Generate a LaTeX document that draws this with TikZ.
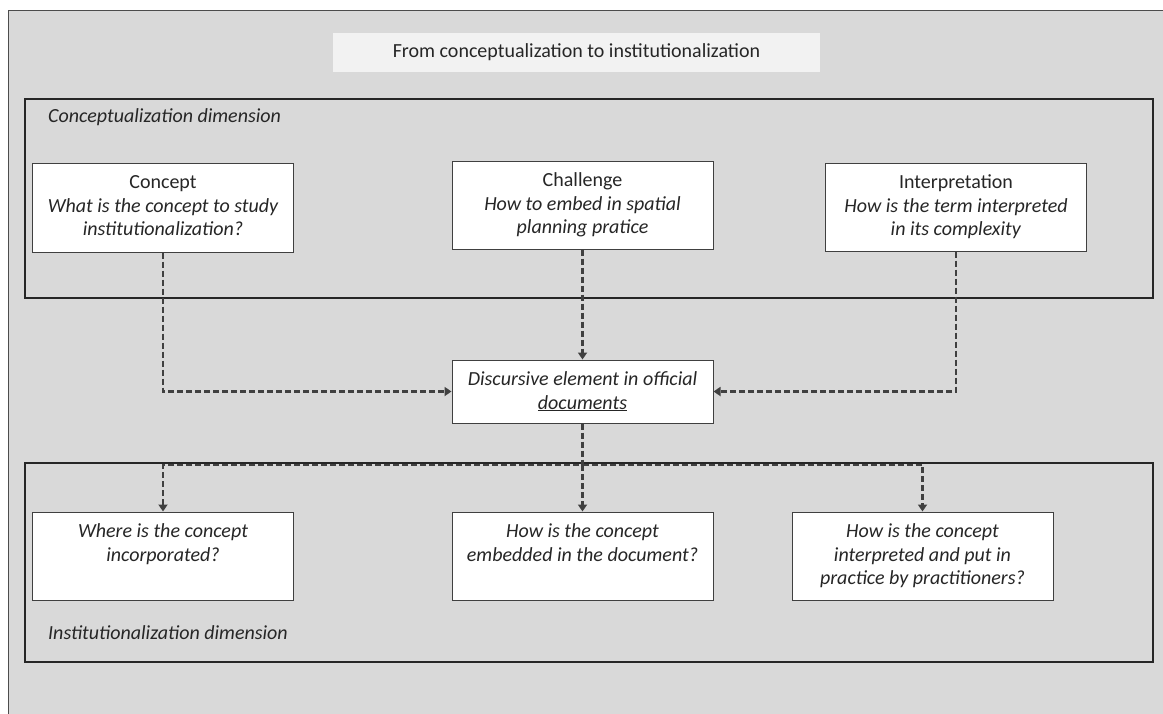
\documentclass[tikz,border=0pt]{standalone}
\usepackage{fontspec}
\setmainfont{Carlito}
\usetikzlibrary{arrows.meta}
\definecolor{pagegray}{HTML}{D9D9D9}
\definecolor{titlegray}{HTML}{F2F2F2}
\definecolor{flowgray}{HTML}{404040}
\def\qtext#1#2{\parbox[c][#1][t]{256pt}{\centering\rule{0pt}{25.5pt}#2}}

\begin{document}
\begin{tikzpicture}[x=1pt, y=-1pt,
	execute at begin picture={\fontsize{20}{23.5}\selectfont},
	qbox/.style={draw=black!75, line width=1pt, fill=white, inner sep=0pt, minimum width=261pt, text=black!85},
	dimbox/.style={draw=black!85, line width=2pt},
	flow/.style={draw=flowgray, line width=2.2pt, dash pattern=on 6pt off 3pt, -{Triangle[width=9pt,length=7pt]}},
	lbl/.style={font=\itshape, anchor=west, inner sep=0pt, text=black!85}]
			%%%%% START %%%%%
			
			\clip (0, 0) rectangle (1163, 713);
			\fill[pagegray] (8, 10) rectangle (1180, 730);
			\draw[line width=1pt, color=black!70] (8, 10) rectangle (1180, 730);
			
			\node[fill=titlegray, minimum width=487pt, minimum height=39pt, text=black!85] (title) at (576.5, 52.5) {From conceptualization to institutionalization};
			
			\draw[dimbox] (25, 99) rectangle (1153, 298);
			\node[lbl] (cdim) at (48, 117) {Conceptualization dimension};
			
			\draw[dimbox] (25, 463) rectangle (1153, 662);
			\node[lbl] (idim) at (48, 633) {Institutionalization dimension};
			
			\node[qbox] (concept) at (163, 207.5) {\qtext{89pt}{Concept\\\textit{What is the concept to study\\institutionalization?}}};
			\node[qbox] (challenge) at (582.5, 205) {\qtext{88pt}{Challenge\\\textit{How to embed in spatial\\planning pratice}}};
			\node[qbox] (interp) at (956, 207) {\qtext{88pt}{Interpretation\\\textit{How is the term interpreted\\in its complexity}}};
			
			\node[qbox, font=\itshape] (disc) at (582.5, 391.5) {\qtext{63pt}{Discursive element in official\\\underline{documents}}};
			
			\node[qbox, font=\itshape] (where) at (163, 556) {\qtext{88pt}{Where is the concept\\incorporated?}};
			\node[qbox, font=\itshape] (how) at (582.5, 556) {\qtext{88pt}{How is the concept\\embedded in the document?}};
			\node[qbox, font=\itshape] (practice) at (922.5, 556) {\qtext{88pt}{How is the concept\\interpreted and put in\\practice by practitioners?}};
			
			\draw[flow] (concept.south) |- (disc.west);
			\draw[flow] (challenge.south) -- (disc.north);
			\draw[flow] (interp.south) |- (disc.east);
			
			\coordinate (split) at (582.5, 465);
			\draw[flow] (disc.south) -- (split) -| (where.north);
			\draw[flow] (split) -- (how.north);
			\draw[flow] (split) -| (practice.north);
			
			%%%%% END %%%%%
\end{tikzpicture}
\end{document}
